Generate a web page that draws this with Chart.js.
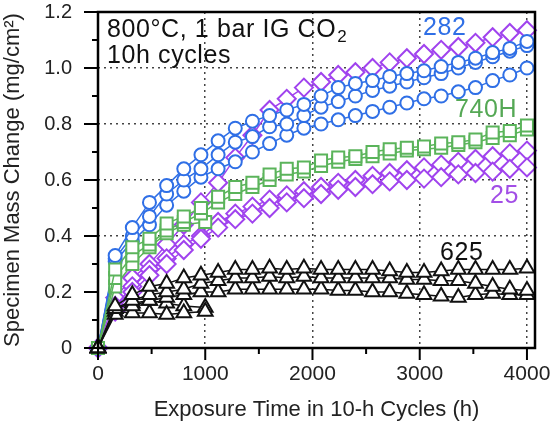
<!DOCTYPE html>
<html>
<head>
<meta charset="utf-8">
<script src="https://cdn.jsdelivr.net/npm/chart.js@4.4.1/dist/chart.umd.min.js"></script>
<style>
  html, body { margin: 0; padding: 0; background: #fff; }
</style>
</head>
<body>
<canvas id="chart" width="555" height="425"></canvas>
<script>
// exposure time (h), one point every 16 cycles
const hours = [0, 160, 320, 480, 640, 800, 960, 1120, 1280, 1440, 1600, 1760, 1920,
    2080, 2240, 2400, 2560, 2720, 2880, 3040, 3200, 3360, 3520, 3680, 3840, 4000];
const hoursShort = [0, 160, 320, 480, 640, 800, 1000];

// alloy 282 (circles)
const a282_1 = [0, 0.33, 0.43, 0.52, 0.58, 0.64, 0.69, 0.74, 0.785, 0.81, 0.83, 0.85, 0.87,
    0.90, 0.93, 0.945, 0.955, 0.97, 0.98, 0.99, 1.005, 1.02, 1.035, 1.055, 1.07, 1.095];
const a282_2 = [0, 0.32, 0.40, 0.47, 0.55, 0.60, 0.64, 0.69, 0.735, 0.755, 0.79, 0.80, 0.83,
    0.86, 0.88, 0.90, 0.92, 0.935, 0.95, 0.965, 0.98, 1.0, 1.02, 1.04, 1.06, 1.08];
const a282_3 = [0, 0.31, 0.38, 0.44, 0.51, 0.56, 0.61, 0.64, 0.665, 0.70, 0.73, 0.76, 0.785,
    0.80, 0.815, 0.83, 0.845, 0.86, 0.875, 0.89, 0.90, 0.915, 0.93, 0.955, 0.975, 1.0];

// alloy 740H (squares)
const a740_1 = [0, 0.28, 0.36, 0.39, 0.445, 0.47, 0.50, 0.54, 0.575, 0.59, 0.62, 0.64, 0.645,
    0.67, 0.68, 0.685, 0.70, 0.71, 0.715, 0.72, 0.73, 0.735, 0.745, 0.77, 0.775, 0.795];
const a740_2 = [0, 0.25, 0.33, 0.37, 0.42, 0.45, 0.48, 0.52, 0.55, 0.575, 0.60, 0.62, 0.63,
    0.65, 0.665, 0.675, 0.685, 0.695, 0.705, 0.71, 0.715, 0.725, 0.735, 0.75, 0.76, 0.78];
const a740_short = [0, 0.22, 0.30, 0.36, 0.41, 0.44, 0.45];

// alloy 25 (diamonds)
const a25_1 = [0, 0.18, 0.25, 0.30, 0.37, 0.44, 0.52, 0.59, 0.68, 0.76, 0.85, 0.89, 0.93,
    0.95, 0.975, 0.985, 1.0, 1.02, 1.035, 1.05, 1.065, 1.075, 1.09, 1.11, 1.125, 1.135];
const a25_2 = [0, 0.15, 0.22, 0.28, 0.32, 0.37, 0.40, 0.45, 0.48, 0.505, 0.53, 0.545, 0.56,
    0.575, 0.59, 0.60, 0.615, 0.625, 0.635, 0.645, 0.655, 0.665, 0.675, 0.685, 0.695, 0.705];
const a25_3 = [0, 0.13, 0.20, 0.26, 0.30, 0.35, 0.39, 0.43, 0.46, 0.48, 0.50, 0.52, 0.535,
    0.55, 0.565, 0.575, 0.585, 0.595, 0.60, 0.605, 0.61, 0.62, 0.625, 0.63, 0.64, 0.645];

// alloy 625 (triangles)
const a625_1 = [0, 0.15, 0.19, 0.22, 0.23, 0.25, 0.26, 0.27, 0.28, 0.28, 0.285, 0.28, 0.285,
    0.28, 0.28, 0.28, 0.28, 0.275, 0.27, 0.27, 0.275, 0.28, 0.28, 0.28, 0.28, 0.285];
const a625_2 = [0, 0.14, 0.17, 0.19, 0.20, 0.21, 0.23, 0.24, 0.25, 0.25, 0.255, 0.25, 0.255,
    0.25, 0.25, 0.25, 0.25, 0.25, 0.245, 0.245, 0.24, 0.24, 0.23, 0.22, 0.21, 0.205];
const a625_3 = [0, 0.12, 0.15, 0.17, 0.18, 0.19, 0.20, 0.20, 0.21, 0.21, 0.21, 0.21, 0.21,
    0.21, 0.205, 0.205, 0.20, 0.20, 0.195, 0.19, 0.185, 0.18, 0.19, 0.195, 0.19, 0.19];
const a625_short1 = [0, 0.13, 0.125, 0.125, 0.12, 0.125, 0.13];
const a625_short2 = [0, 0.14, 0.16, 0.17, 0.16, 0.15, 0.145];

const xTicks = [0, 500, 1000, 1500, 2000, 2500, 3000, 3500, 4000];
const yTicks = [0, 0.1, 0.2, 0.3, 0.4, 0.5, 0.6, 0.7, 0.8, 0.9, 1.0, 1.1, 1.2];
const xGridAt = [1000, 2000, 3000, 4000];
const yGridAt = [0.4, 0.6, 0.8, 1.0];

const colors = {
    c282: '#2f6fe6',
    c740: '#5bb45b',
    c25: '#a043ee',
    c625: '#111111',
};

const fontFamily = '"Liberation Sans", Arial, Helvetica, sans-serif';

function pts(xs, ys) {
    return ys.map((v, i) => ({ x: xs[i], y: v }));
}

function series(xs, ys, color, style, radius) {
    return {
        data: pts(xs, ys),
        showLine: true,
        borderColor: color,
        borderWidth: 1.5,
        pointStyle: style,
        pointRadius: radius,
        pointBorderColor: color,
        pointBackgroundColor: '#fff',
        pointBorderWidth: 2,
        clip: false,
    };
}

const datasets = [
    series(hours, a625_1, colors.c625, 'triangle', 8.5),
    series(hours, a625_2, colors.c625, 'triangle', 8.5),
    series(hours, a625_3, colors.c625, 'triangle', 8.5),
    series(hoursShort, a625_short1, colors.c625, 'triangle', 8.5),
    series(hoursShort, a625_short2, colors.c625, 'triangle', 8.5),
    series(hours, a740_1, colors.c740, 'rect', 8.5),
    series(hours, a740_2, colors.c740, 'rect', 8.5),
    series(hoursShort, a740_short, colors.c740, 'rect', 8.5),
    series(hours, a282_1, colors.c282, 'circle', 6.5),
    series(hours, a282_2, colors.c282, 'circle', 6.5),
    series(hours, a282_3, colors.c282, 'circle', 6.5),
    series(hours, a25_3, colors.c25, 'rectRot', 9),
    series(hours, a25_2, colors.c25, 'rectRot', 9),
    series(hours, a25_1, colors.c25, 'rectRot', 9),
];

// text labels, placed in data units
const notes = [
    { text: '282', x: 3030, y: 1.118, color: colors.c282 },
    { text: '740H', x: 3330, y: 0.825, color: '#55a855' },
    { text: '25', x: 3655, y: 0.518, color: '#a24ee6' },
    { text: '625', x: 3190, y: 0.314, color: '#111' },
];

const framePlugin = {
    id: 'frame',
    afterDatasetsDraw(chart) {
        const { ctx, chartArea: a, scales: { x, y } } = chart;
        ctx.save();
        ctx.strokeStyle = '#000';
        ctx.lineWidth = 2.5;
        ctx.strokeRect(a.left, a.top, a.right - a.left, a.bottom - a.top);

        // outward ticks
        ctx.lineWidth = 2;
        xTicks.forEach(v => {
            const px = x.getPixelForValue(v);
            const len = v % 1000 === 0 ? 12 : 6;
            ctx.beginPath();
            ctx.moveTo(px, a.bottom);
            ctx.lineTo(px, a.bottom + len);
            ctx.stroke();
        });
        yTicks.forEach((v, i) => {
            const py = y.getPixelForValue(v);
            const len = i % 2 === 0 ? 14 : 6;
            ctx.beginPath();
            ctx.moveTo(a.left, py);
            ctx.lineTo(a.left - len, py);
            ctx.stroke();
        });

        // condition text
        ctx.fillStyle = '#111';
        ctx.textBaseline = 'alphabetic';
        ctx.textAlign = 'left';
        ctx.letterSpacing = '0.6px';
        ctx.font = '25px ' + fontFamily;
        const tx = x.getPixelForValue(84);
        const line1 = '800°C, 1 bar IG CO';
        ctx.fillText(line1, tx, y.getPixelForValue(1.11));
        const w = ctx.measureText(line1).width;
        ctx.font = '17px ' + fontFamily;
        ctx.fillText('2', tx + w + 1, y.getPixelForValue(1.11) + 5);
        ctx.font = '25px ' + fontFamily;
        ctx.fillText('10h cycles', tx, y.getPixelForValue(1.018));

        notes.forEach(n => {
            ctx.fillStyle = n.color;
            ctx.fillText(n.text, x.getPixelForValue(n.x), y.getPixelForValue(n.y));
        });
        ctx.restore();
    }
};

new Chart(document.getElementById('chart'), {
    type: 'scatter',
    data: { datasets },
    options: {
        responsive: false,
        animation: false,
        layout: { padding: { top: 12, right: 20, left: 0, bottom: 0 } },
        plugins: {
            legend: { display: false },
            tooltip: { enabled: false },
        },
        scales: {
            x: {
                type: 'linear',
                min: 0,
                max: 4075,
                afterBuildTicks: s => { s.ticks = xTicks.map(v => ({ value: v })); },
                afterFit: s => {
                    s.height = 77;
                    s.paddingLeft = 0;
                    s.paddingRight = 0;
                },
                border: { display: false, dash: [2, 4] },
                grid: {
                    drawTicks: false,
                    lineWidth: 1.5,
                    color: c => xGridAt.includes(c.tick && c.tick.value) ? '#444' : 'rgba(0,0,0,0)',
                },
                ticks: {
                    autoSkip: false,
                    maxRotation: 0,
                    padding: 14,
                    color: '#222',
                    font: { family: fontFamily, size: 21 },
                    callback: v => (v % 1000 === 0 ? String(v) : ''),
                },
                title: {
                    display: true,
                    text: 'Exposure Time in 10-h Cycles (h)',
                    color: '#222',
                    font: { family: fontFamily, size: 22 },
                    padding: { top: 0, bottom: 2 },
                },
            },
            y: {
                min: 0,
                max: 1.2,
                afterBuildTicks: s => { s.ticks = yTicks.map(v => ({ value: v })); },
                afterFit: s => {
                    s.width = 98;
                    s.paddingTop = 0;
                    s.paddingBottom = 0;
                },
                border: { display: false, dash: [2, 4] },
                grid: {
                    drawTicks: false,
                    lineWidth: 1.5,
                    color: c => {
                        const v = c.tick ? Math.round(c.tick.value * 10) / 10 : -1;
                        return yGridAt.includes(v) ? '#444' : 'rgba(0,0,0,0)';
                    },
                },
                ticks: {
                    autoSkip: false,
                    padding: 26,
                    color: '#222',
                    font: { family: fontFamily, size: 20 },
                    callback: (v, i) => (i % 2 === 0 ? (v === 0 ? '0' : v.toFixed(1)) : ''),
                },
                title: {
                    display: true,
                    text: 'Specimen Mass Change (mg/cm²)',
                    color: '#222',
                    font: { family: fontFamily, size: 22 },
                    padding: { top: 0, bottom: 0 },
                },
            },
        },
    },
    plugins: [framePlugin],
});
</script>
</body>
</html>
